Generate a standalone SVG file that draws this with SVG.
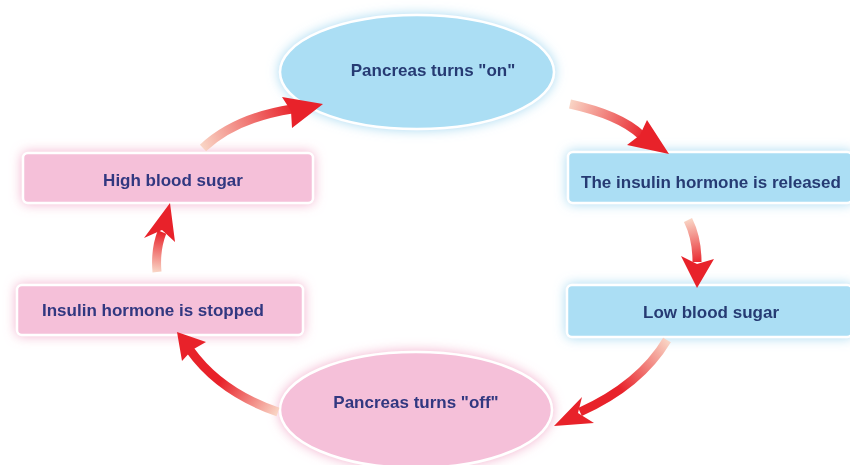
<svg xmlns="http://www.w3.org/2000/svg" width="850" height="465" viewBox="0 0 850 465">
<defs>
<style>
.lbl{font-family:"Liberation Sans",Arial,sans-serif;font-weight:bold;font-size:17px;text-anchor:middle;dominant-baseline:central}
.blue{fill:#abdef4;stroke:#ffffff;stroke-width:2.5}
.pink{fill:#f5c0d9;stroke:#ffffff;stroke-width:2.5}
.tb{fill:#263a73}
.tp{fill:#303780}
.shaft{fill:none;stroke-width:9;stroke-linecap:butt}
.head{fill:#e8222a}
</style>
<filter id="glowB" x="-20%" y="-40%" width="140%" height="180%">
<feGaussianBlur in="SourceAlpha" stdDeviation="6" result="b"/>
<feFlood flood-color="#9fd6f0" flood-opacity="0.9"/>
<feComposite in2="b" operator="in" result="g"/>
<feMerge><feMergeNode in="g"/><feMergeNode in="SourceGraphic"/></feMerge>
</filter>
<filter id="glowP" x="-20%" y="-40%" width="140%" height="180%">
<feGaussianBlur in="SourceAlpha" stdDeviation="6" result="b"/>
<feFlood flood-color="#f2a9c8" flood-opacity="0.9"/>
<feComposite in2="b" operator="in" result="g"/>
<feMerge><feMergeNode in="g"/><feMergeNode in="SourceGraphic"/></feMerge>
</filter>
<linearGradient id="g1" gradientUnits="userSpaceOnUse" x1="203" y1="148" x2="295" y2="108"><stop offset="0" stop-color="#f9d4c4"/><stop offset="1" stop-color="#e8222a"/></linearGradient>
<linearGradient id="g2" gradientUnits="userSpaceOnUse" x1="570" y1="104" x2="645" y2="136"><stop offset="0" stop-color="#f9d4c4"/><stop offset="1" stop-color="#e8222a"/></linearGradient>
<linearGradient id="g3" gradientUnits="userSpaceOnUse" x1="688" y1="220" x2="697" y2="265"><stop offset="0" stop-color="#f9d4c4"/><stop offset="1" stop-color="#e8222a"/></linearGradient>
<linearGradient id="g4" gradientUnits="userSpaceOnUse" x1="667" y1="340" x2="580" y2="412"><stop offset="0" stop-color="#f9d4c4"/><stop offset="0.6" stop-color="#e8222a"/></linearGradient>
<linearGradient id="g5" gradientUnits="userSpaceOnUse" x1="278" y1="412" x2="190" y2="350"><stop offset="0" stop-color="#f9d4c4"/><stop offset="0.6" stop-color="#e8222a"/></linearGradient>
<linearGradient id="g6" gradientUnits="userSpaceOnUse" x1="157" y1="272" x2="163" y2="232"><stop offset="0" stop-color="#f9d4c4"/><stop offset="1" stop-color="#e8222a"/></linearGradient>
</defs>
<rect width="850" height="465" fill="#ffffff"/>

<g id="n-on" filter="url(#glowB)">
<ellipse class="blue" cx="417" cy="72" rx="137" ry="57"/>
<text class="lbl tb" x="433" y="70">Pancreas turns "on"</text>
</g>
<g id="n-released" filter="url(#glowB)">
<rect class="blue" x="568" y="152" width="284" height="51" rx="5"/>
<text class="lbl tb" x="711" y="182">The insulin hormone is released</text>
</g>
<g id="n-low" filter="url(#glowB)">
<rect class="blue" x="567" y="285" width="285" height="52" rx="5"/>
<text class="lbl tb" x="711" y="312">Low blood sugar</text>
</g>
<g id="n-off" filter="url(#glowP)">
<ellipse class="pink" cx="416" cy="410" rx="136" ry="58"/>
<text class="lbl tp" x="416" y="402">Pancreas turns "off"</text>
</g>
<g id="n-stopped" filter="url(#glowP)">
<rect class="pink" x="17" y="285" width="286" height="50" rx="5"/>
<text class="lbl tp" x="153" y="310">Insulin hormone is stopped</text>
</g>
<g id="n-high" filter="url(#glowP)">
<rect class="pink" x="23" y="153" width="290" height="50" rx="5"/>
<text class="lbl tp" x="173" y="180">High blood sugar</text>
</g>

<g id="connectors">
<path class="shaft" stroke="url(#g1)" d="M203,148 Q235,118 292,109"/>
<polygon class="head" points="323,104 282,97 291,111 292,128"/>
<path class="shaft" stroke="url(#g2)" d="M570,104 Q620,115 641,135"/>
<polygon class="head" points="669,154 627,145 640,135 647,120"/>
<path class="shaft" stroke="url(#g3)" d="M688,220 Q697,238 697,262"/>
<polygon class="head" points="697,288 681,256 697,264 714,259"/>
<path class="shaft" stroke="url(#g4)" d="M667,340 Q640,385 580,412"/>
<polygon class="head" points="554,426 582,397 578,413 594,423"/>
<path class="shaft" stroke="url(#g5)" d="M278,412 Q220,392 190,350"/>
<polygon class="head" points="177,332 206,342 192,350 182,361"/>
<path class="shaft" stroke="url(#g6)" d="M157,272 Q155,250 162,232"/>
<polygon class="head" points="170,203 144,238 162,230 175,242"/>
</g>
</svg>
